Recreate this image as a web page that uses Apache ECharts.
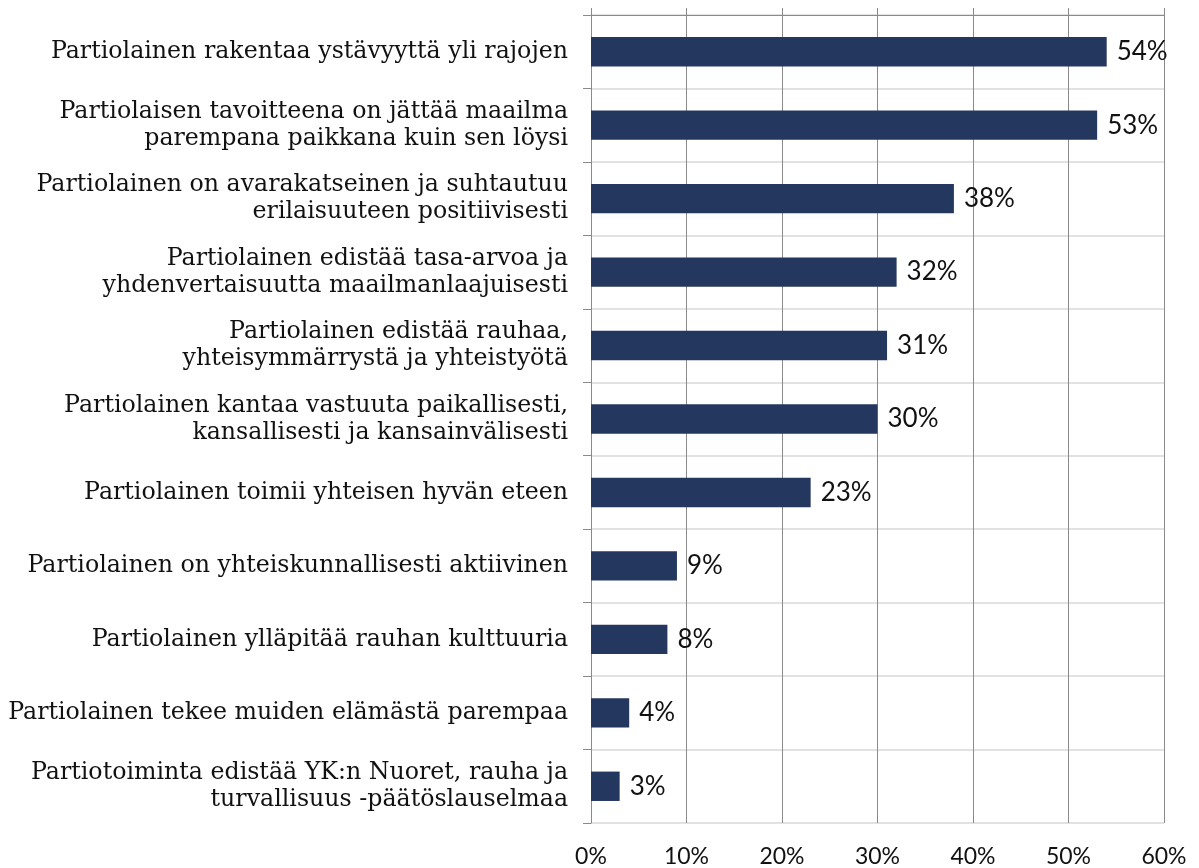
<!DOCTYPE html>
<html>
<head>
<meta charset="utf-8">
<title>Partiolainen</title>
<script src="https://cdn.jsdelivr.net/npm/echarts@6/dist/echarts.min.js"></script>
<style>
    html, body { margin: 0; padding: 0; background: #fff; }
    #chart { width: 1199px; height: 868px; }
</style>
</head>
<body>
<div id="chart"></div>
<script>
// kategoriat ylhäältä alas
var categories = [
    'Partiolainen rakentaa ystävyyttä yli rajojen',
    'Partiolaisen tavoitteena on jättää maailma\nparempana paikkana kuin sen löysi',
    'Partiolainen on avarakatseinen ja suhtautuu\nerilaisuuteen positiivisesti',
    'Partiolainen edistää tasa-arvoa ja\nyhdenvertaisuutta maailmanlaajuisesti',
    'Partiolainen edistää rauhaa,\nyhteisymmärrystä ja yhteistyötä',
    'Partiolainen kantaa vastuuta paikallisesti,\nkansallisesti ja kansainvälisesti',
    'Partiolainen toimii yhteisen hyvän eteen',
    'Partiolainen on yhteiskunnallisesti aktiivinen',
    'Partiolainen ylläpitää rauhan kulttuuria',
    'Partiolainen tekee muiden elämästä parempaa',
    'Partiotoiminta edistää YK:n Nuoret, rauha ja\nturvallisuus -päätöslauselmaa'
];
var values = [54, 53, 38, 32, 31, 30, 23, 9, 8, 4, 3];
var axisMax = 60;
var axisStep = 10;

var chart = echarts.init(document.getElementById('chart'));
var gridColor = '#8a8a8a';
var option = {
    animation: false,
    grid: {
        left: 591,
        right: 35,
        top: 15,
        bottom: 45
    },
    xAxis: [{
        type: 'value',
        position: 'bottom',
        min: 0,
        max: axisMax,
        interval: axisStep,
        axisLine: {show: false},
        axisTick: {show: false},
        axisLabel: {
            formatter: '{value}%',
            fontFamily: 'Lato',
            fontSize: 23,
            color: '#111',
            margin: 22
        },
        splitLine: {show: true, lineStyle: {color: gridColor, width: 1}}
    }, {
        // yläreunan akseliviiva ja tikit
        type: 'value',
        position: 'top',
        min: 0,
        max: axisMax,
        interval: axisStep,
        axisLine: {show: true, lineStyle: {color: gridColor, width: 1}},
        axisTick: {show: true, length: 7, lineStyle: {color: gridColor}},
        axisLabel: {show: false},
        splitLine: {show: false}
    }],
    yAxis: {
        type: 'category',
        inverse: true,
        data: categories,
        axisLine: {show: true, lineStyle: {color: gridColor, width: 1}},
        axisTick: {show: true, length: 8, lineStyle: {color: gridColor}},
        splitLine: {show: true, lineStyle: {color: '#e2e2e2', width: 2}},
        axisLabel: {
            fontFamily: 'DejaVu Serif',
            fontSize: 23.7,
            lineHeight: 27,
            color: '#111',
            margin: 23
        }
    },
    series: [{
        type: 'bar',
        xAxisIndex: 0,
        data: values,
        barWidth: '40%',
        itemStyle: {color: '#24375f'},
        label: {
            show: true,
            position: 'right',
            distance: 10,
            formatter: '{c}%',
            fontFamily: 'Lato',
            fontSize: 26,
            color: '#111'
        }
    }]
};
chart.setOption(option);
</script>
</body>
</html>
